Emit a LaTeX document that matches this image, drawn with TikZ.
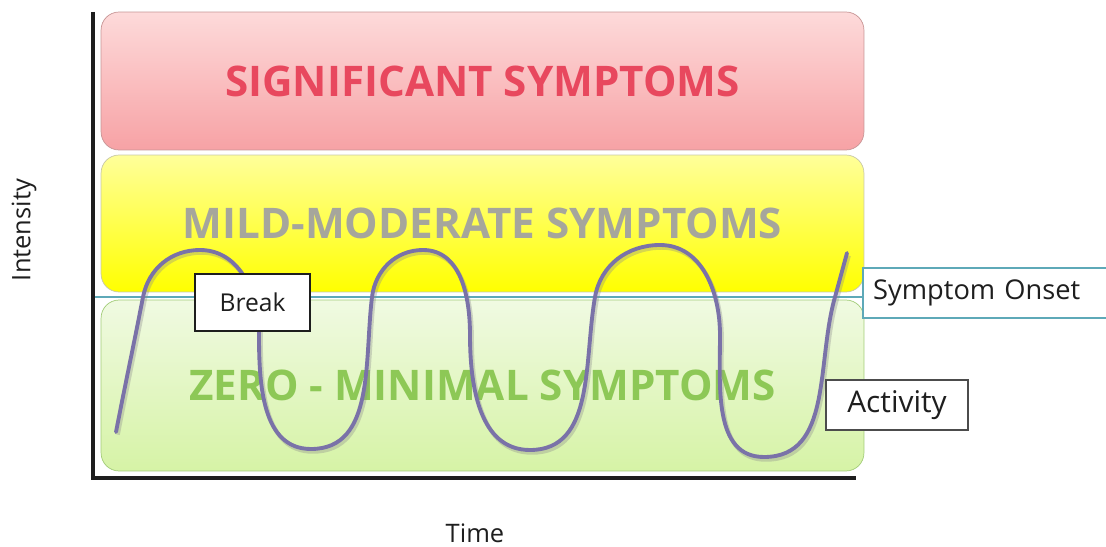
\documentclass[tikz,border=0pt]{standalone}
\usepackage{fontspec}
\setmainfont{Open Sans}
\usetikzlibrary{positioning}
\definecolor{sigtext}{HTML}{E8485E}
\definecolor{sigtop}{HTML}{FDDADA}
\definecolor{sigbot}{HTML}{F7A2A5}
\definecolor{sigline}{HTML}{C79595}
\definecolor{mildtext}{HTML}{A6A69C}
\definecolor{mildtop}{HTML}{FFFF9A}
\definecolor{mildbot}{HTML}{FFFF00}
\definecolor{mildline}{HTML}{C8C8A6}
\definecolor{zerotext}{HTML}{8DC856}
\definecolor{zerotop}{HTML}{F0FAE2}
\definecolor{zerobot}{HTML}{D6F3A6}
\definecolor{zeroline}{HTML}{A2CC78}
\definecolor{onset}{HTML}{5EA9B8}
\definecolor{wave}{HTML}{7A72A8}
\definecolor{ink}{HTML}{1E1E1E}
\tikzset{
  band/.style 2 args={
    rectangle, rounded corners=0.36cm, draw=#1, thin,
    top color=#2top, bottom color=#2bot,
    minimum width=15.26cm, inner sep=0pt,
    font=\fontsize{24}{24}\selectfont\bfseries, text=#2text
  },
  tagbox/.style={
    rectangle, draw=#1, fill=white, line width=0.8pt,
    inner sep=0pt, font=\fontsize{14}{15}\selectfont, text=ink
  },
  tagbox/.default=ink,
  axis/.style={line width=2.2pt, ink},
  activity/.style={
    line width=2.2pt, wave, line cap=round,
    preaction={draw=black!45, line width=2.4pt, opacity=0.35,
      transform canvas={shift={(1pt,-1.5pt)}}}
  },
  axislabel/.style={font=\fontsize{14.5}{15}\selectfont, text=ink},
}
\begin{document}
\begin{tikzpicture}[x=0.02cm, y=0.02cm]
  \useasboundingbox (0,0) rectangle (1106,-547);
  \clip (0,0) rectangle (1106,-547);
  % symptom bands
  \node[band={sigline}{sig}, minimum height=2.76cm] (sig) at (482.5,-81) {SIGNIFICANT SYMPTOMS};
  \node[band={mildline}{mild}, minimum height=2.74cm] (mild) at (482.5,-223.5) {MILD-MODERATE SYMPTOMS};
  \node[band={zeroline}{zero}, minimum height=3.42cm] (zero) at (482.5,-385.5) {ZERO - MINIMAL SYMPTOMS};
  % axes
  \coordinate (ytop) at (93,-12);
  \coordinate (xend) at (856,-478);
  \draw[axis] (ytop) |- (xend);
  \node[axislabel, rotate=90] (intensity) at (24,-230) {Intensity};
  \node[axislabel] (time) at (475,-533) {Time};
  % onset line and label
  \node[tagbox=onset, line width=1.4pt, anchor=west, minimum width=5.2cm, minimum height=1cm,
        text width=4.8cm, align=left, inner xsep=0.2cm, font=\fontsize{15.5}{17}\selectfont] (onsetbox) at (862,-293) {Symptom Onset};
  \coordinate (onsetL) at (95,-297);
  \draw[onset, line width=1.2pt] (onsetL) -- (onsetL -| onsetbox.west);
  % activity curve
  \draw[activity] (116,-432)
    to[out=79,in=-101] (143,-297)
    to[out=79,in=180] (200,-250)
    to[out=0,in=90] (259,-335)
    to[out=-90,in=180] (311,-449)
    to[out=0,in=-97] (372,-297)
    to[out=83,in=180] (423,-250)
    to[out=0,in=90] (470,-335)
    to[out=-90,in=180] (530,-450)
    to[out=0,in=-100] (595,-297)
    to[out=80,in=180] (660,-245)
    to[out=0,in=90] (720,-335)
    to[out=-90,in=180] (764,-457)
    to[out=0,in=-106] (835,-297)
    -- (847,-253);
  % tags
  \node[tagbox, minimum width=2.3cm, minimum height=1.14cm] (break) at (252.5,-302.5) {Break};
  \node[tagbox=black!70, line width=1.2pt, minimum width=2.84cm, minimum height=1cm,
        font=\fontsize{17}{18}\selectfont] (activitytag) at (897,-405) {Activity};
\end{tikzpicture}
\end{document}
